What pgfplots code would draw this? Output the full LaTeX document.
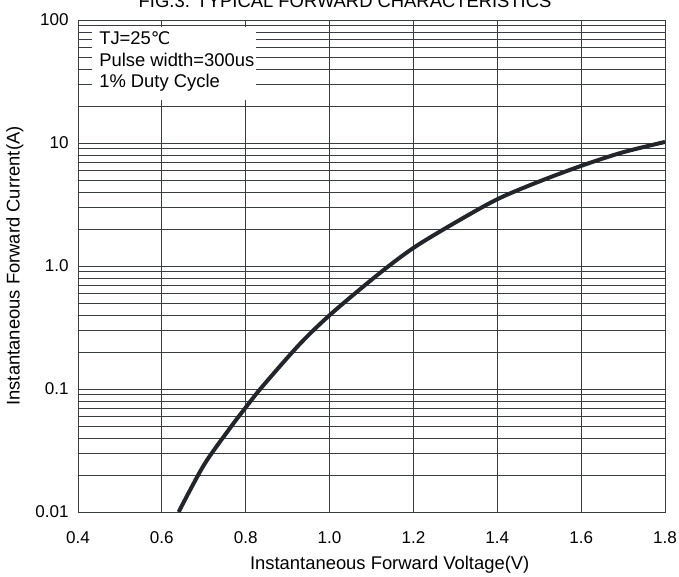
\documentclass[border=0pt]{standalone}
\usepackage{fontspec}
\setmainfont{Liberation Sans}
\newfontfamily\dejavu{DejaVu Sans}
\usepackage{pgfplots}
\pgfplotsset{compat=1.18}
\newcommand\fs{\fontsize{12.8}{15}\selectfont}
\newcommand\fl{\fontsize{13.8}{16}\selectfont}
\definecolor{gridc}{HTML}{3A3D42}
\definecolor{curvec}{HTML}{22262B}
\begin{document}
\begin{tikzpicture}
\begin{axis}[
  name=ax,
  scale only axis,
  width=440.25pt, height=369pt,
  ymode=log,
  xmin=0.4, xmax=1.8,
  ymin=0.01, ymax=100,
  xtick={0.4,0.6,0.8,1.0,1.2,1.4,1.6,1.8},
  xticklabels={0.4,0.6,0.8,1.0,1.2,1.4,1.6,1.8},
  ytick={0.01,0.1,1,10,100},
  yticklabels={0.01,0.1,1.0,10,100},
  major tick length=0pt, minor tick length=0pt,
  grid=both,
  major grid style={gridc, line width=0.6pt},
  minor grid style={gridc, line width=0.6pt},
  axis line style={gridc, line width=0.7pt},
  tick label style={font=\fs, text=black},
  xticklabel style={yshift=-11pt},
  yticklabel style={xshift=-3.5pt},
  xlabel={Instantaneous Forward Voltage(V)},
  ylabel={Instantaneous Forward Current(A)},
  label style={font=\fl},
  xlabel style={at={(axis description cs:0.531,-0.1077)}, anchor=center},
  ylabel style={at={(axis description cs:-0.1074,0.5)}, anchor=center},
  clip=false,
]
\addplot[curvec, line width=3pt, smooth] coordinates {
(0.64,0.0100)
(0.70,0.0240)
(0.76,0.0468)
(0.80,0.0708)
(0.84,0.105)
(0.93,0.234)
(1.006,0.415)
(1.120,0.877)
(1.205,1.44)
(1.318,2.45)
(1.406,3.57)
(1.509,5.0)
(1.609,6.68)
(1.700,8.41)
(1.800,10.2)
};
\fill[white] (rel axis cs:0.0239,0.9858) rectangle (rel axis cs:0.3032,0.8374);
\node[anchor=base west, inner sep=0pt, font=\fl] at (rel axis cs:0.0358,0.9492) {TJ=25{\dejavu\fontsize{13}{15}\selectfont ℃}};
\node[anchor=base west, inner sep=0pt, font=\fl] at (rel axis cs:0.0358,0.9065) {Pulse width=300us};
\node[anchor=base west, inner sep=0pt, font=\fl] at (rel axis cs:0.0358,0.8618) {1\% Duty Cycle};
\node[anchor=base, inner sep=0pt, font=\fl, yshift=9.75pt] at (rel axis cs:0.455,1) {FIG.3. TYPICAL FORWARD CHARACTERISTICS};
\end{axis}
\pgfresetboundingbox
\path ([shift={(-58.5pt,-48.75pt)}]ax.south west) rectangle ([shift={(10.5pt,15pt)}]ax.north east);
\end{tikzpicture}
\end{document}
